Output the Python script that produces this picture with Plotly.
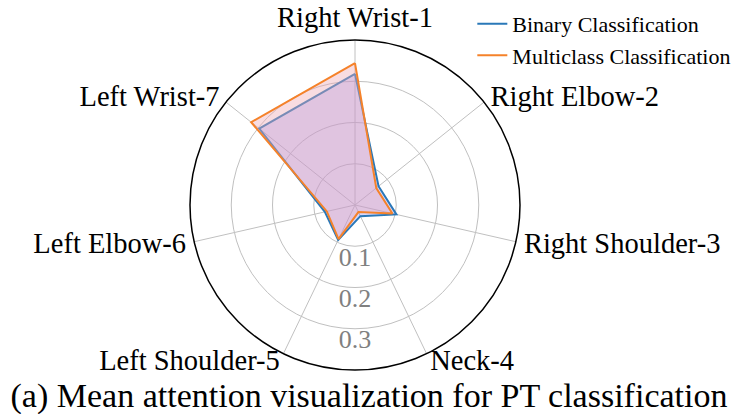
import math
import plotly.graph_objects as go

categories = ["Right Wrist-1", "Right Elbow-2", "Right Shoulder-3", "Neck-4",
              "Left Shoulder-5", "Left Elbow-6", "Left Wrist-7"]
binary_vals = [0.318, 0.073, 0.103, 0.030, 0.094, 0.075, 0.297]
multi_vals = [0.344, 0.066, 0.093, 0.019, 0.092, 0.070, 0.322]
radial_ticks = [0.1, 0.2, 0.3]
radial_labels = ["0.1", "0.2", "0.3"]

FONT = "Liberation Serif, Times New Roman, serif"
W, H = 738, 414
R_MAX = 0.4          # outer circle of the chart
R_LABEL_AX = 0.47    # range of the (invisible) label overlay
LABEL_R = 0.42
CX, CY, RPX = 355, 205, 165   # pixel centre / radius of the chart
LABEL_DY = 2                   # labels sit slightly below their spokes
BLUE = "#2a78b8"
ORANGE = "#f5822a"

n = len(categories)
theta = [i * 360.0 / n for i in range(n)]


def closed(v):
    return list(v) + [v[0]]


def domain(radius_px, cy=CY):
    return dict(x=[(CX - radius_px) / W, (CX + radius_px) / W],
                y=[(H - cy - radius_px) / H, (H - cy + radius_px) / H])


def text_pos(t):
    a = math.radians(90 - t)
    c, s = math.cos(a), math.sin(a)
    if abs(c) < 0.1:
        return "top center" if s > 0 else "bottom center"
    return "middle right" if c > 0 else "middle left"


fig = go.Figure()
fig.add_trace(go.Scatterpolar(
    r=closed(binary_vals), theta=closed(theta),
    mode="lines", line=dict(color=BLUE, width=2),
    fill="toself", fillcolor="rgba(122,122,248,0.3)",
    showlegend=False,
))
fig.add_trace(go.Scatterpolar(
    r=closed(multi_vals), theta=closed(theta),
    mode="lines", line=dict(color=ORANGE, width=2),
    fill="toself", fillcolor="rgba(238,168,180,0.4)",
    showlegend=False,
))
fig.add_trace(go.Scatterpolar(r=[None], theta=[None], mode="lines",
                              line=dict(color=BLUE, width=2),
                              name="Binary Classification"))
fig.add_trace(go.Scatterpolar(r=[None], theta=[None], mode="lines",
                              line=dict(color=ORANGE, width=2),
                              name="Multiclass Classification"))
fig.add_trace(go.Scatterpolar(
    r=radial_ticks, theta=[180] * len(radial_ticks), mode="text",
    text=radial_labels, textposition="bottom center",
    textfont=dict(family=FONT, size=26, color="#808080"),
    showlegend=False, hoverinfo="skip",
))
fig.add_trace(go.Scatterpolar(
    r=[LABEL_R] * n, theta=theta, mode="text", text=categories,
    textposition=[text_pos(t) for t in theta],
    textfont=dict(family=FONT, size=28.5, color="black"),
    subplot="polar2", showlegend=False, hoverinfo="skip",
))

fig.update_layout(
    width=W, height=H,
    margin=dict(l=0, r=0, t=0, b=0),
    paper_bgcolor="white",
    font=dict(family=FONT, color="black"),
    polar=dict(
        domain=domain(RPX),
        bgcolor="white",
        angularaxis=dict(
            direction="clockwise", rotation=90,
            tickmode="array", tickvals=theta,
            showticklabels=False,
            gridcolor="#c0c0c0", gridwidth=1,
            linecolor="black", linewidth=1.5,
            ticks="", showline=True,
        ),
        radialaxis=dict(
            range=[0, R_MAX], tickvals=radial_ticks,
            showticklabels=False,
            gridcolor="#c0c0c0", gridwidth=1,
            showline=False, ticks="",
        ),
    ),
    polar2=dict(
        domain=domain(RPX * R_LABEL_AX / R_MAX, CY + LABEL_DY),
        bgcolor="rgba(0,0,0,0)",
        angularaxis=dict(direction="clockwise", rotation=90,
                         showticklabels=False, showgrid=False,
                         showline=False, ticks=""),
        radialaxis=dict(range=[0, R_LABEL_AX], showticklabels=False,
                        showgrid=False, showline=False, ticks=""),
    ),
    legend=dict(
        x=0.64, y=0.993, xanchor="left", yanchor="top",
        font=dict(family=FONT, size=22, color="black"),
        bgcolor="rgba(0,0,0,0)", tracegroupgap=0,
    ),
    title=dict(
        text="(a) Mean attention visualization for PT classification",
        x=0.5, xanchor="center", y=0.045, yanchor="middle",
        font=dict(family=FONT, size=34, color="black"),
    ),
)

fig.write_html("out.html", config={"displayModeBar": False},
               post_script="document.body.style.margin='0';")
